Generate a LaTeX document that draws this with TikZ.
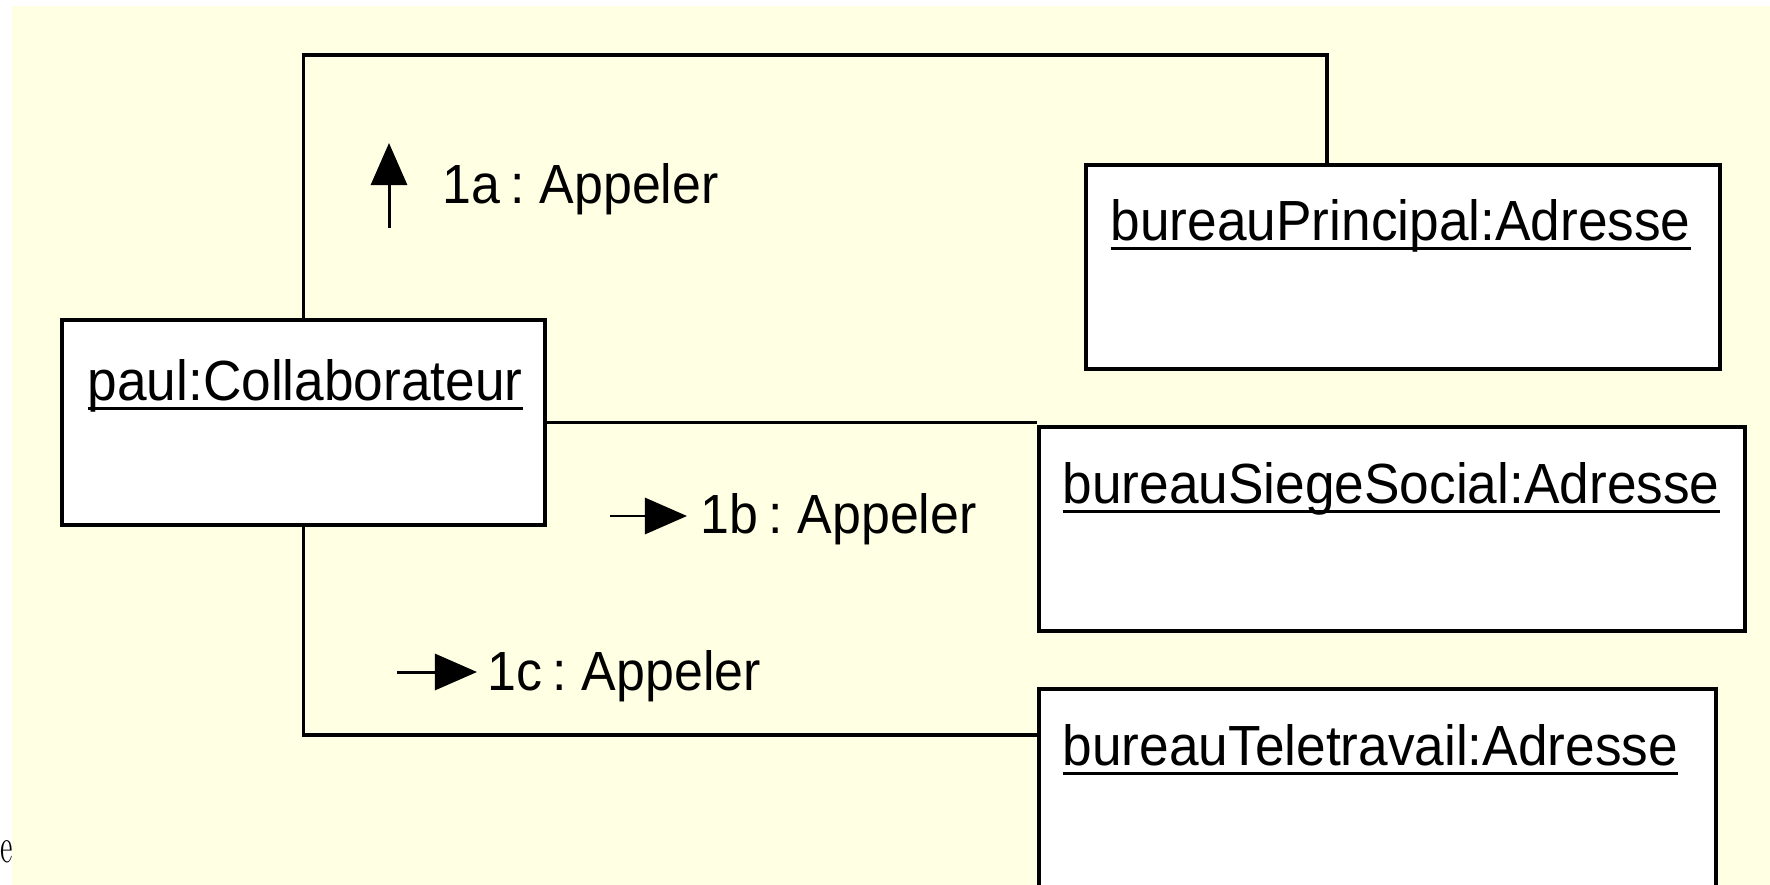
\documentclass[tikz,border=0pt]{standalone}
\usepackage{fontspec}
\newfontfamily\umlfont{Liberation Sans}[FakeStretch=0.94]
\newfontfamily\msgfont{Liberation Sans}[FakeStretch=0.94, WordSpace=0.7]
\usetikzlibrary{arrows.meta}
\definecolor{noteyellow}{RGB}{255,255,228}
\newcommand\uname[1]{\setbox0\hbox{#1}\rlap{\rule[-2.95pt]{\wd0}{0.85pt}}\box0}

\begin{document}
\begin{tikzpicture}[x = 0.01cm, y = -0.01cm,
    obj/.style = {shape = rectangle, draw = black, fill = white, line width = 1.1pt, anchor = north west, inner sep = 0pt, minimum height = 2.04cm},
    objname/.style = {anchor = base west, inner sep = 0pt, font = \umlfont\fontsize{16.1}{19}\selectfont},
    link/.style = {line width = 1pt},
    msg/.style = {-{Triangle[length = 4.2mm, width = 3.6mm]}, line width = 0.85pt},
    msgname/.style = {anchor = base west, inner sep = 0pt, font = \msgfont\fontsize{15.7}{18}\selectfont},
    ]
    \useasboundingbox (0, 0) rectangle (1770, 885);
    \fill[white] (0, 0) rectangle (1770, 885);
    \fill[noteyellow] (12, 6) rectangle (1770, 885);
    \node[anchor = base west, inner sep = 0pt, font = \fontsize{14}{16}\selectfont] (stray) at (0, 862) {\scalebox{0.58}[1]{e}};

    \node[obj, minimum width = 4.83cm, minimum height = 2.05cm] (paul) at (60, 318) {};
    \node[objname] (paul-t) at (87, 400) {\uname{paul:Collaborateur}};

    \node[obj, minimum width = 6.34cm] (principal) at (1084, 163) {};
    \node[objname] (principal-t) at (1110, 240) {\uname{bureauPrincipal:Adresse}};

    \node[obj, minimum width = 7.06cm] (siege) at (1037, 425) {};
    \node[objname] (siege-t) at (1062, 503) {\uname{bureauSiegeSocial:Adresse}};

    \node[obj, minimum width = 6.77cm] (tele) at (1037, 687) {};
    \node[objname] (tele-t) at (1062, 765) {\uname{bureauTeletravail:Adresse}};

    \coordinate (ta) at (1327, 55);
    \coordinate (tc) at (0, 735);
    \draw[link] (paul.north) |- (ta) -- (ta |- principal.north);
    \draw[link] (paul.east) -- (paul.east -| siege.west);
    \draw[link] (paul.south) |- (tc -| tele.west);

    \coordinate (m1a-s) at (389, 228);
    \coordinate (m1a-e) at (389, 143);
    \draw[msg] (m1a-s) -- (m1a-e);
    \node[msgname] (m1a) at (442, 204) {1a : Appeler};

    \coordinate (m1b-s) at (610, 516);
    \coordinate (m1b-e) at (687, 516);
    \draw[msg] (m1b-s) -- (m1b-e);
    \node[msgname] (m1b) at (700, 533) {1b : Appeler};

    \coordinate (m1c-s) at (397, 672);
    \coordinate (m1c-e) at (477, 672);
    \draw[msg] (m1c-s) -- (m1c-e);
    \node[msgname] (m1c) at (487, 690) {1c : Appeler};
\end{tikzpicture}
\end{document}
